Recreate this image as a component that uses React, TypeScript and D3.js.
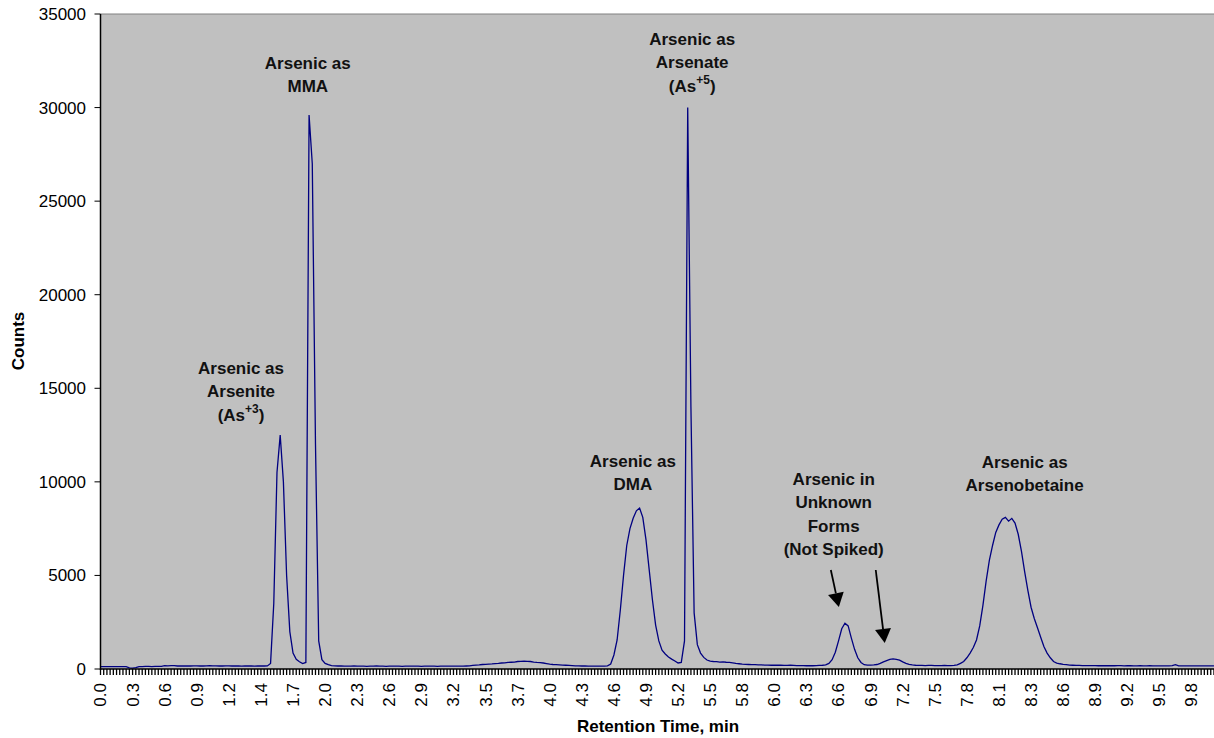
import React, { useEffect, useRef } from 'react';
import * as d3 from 'd3';

// detector counts, one value per sample (category index)
const counts = [
  130, 130, 130, 130, 130, 125, 130, 130, 125, 60,
  50, 70, 130, 130, 135, 135, 130, 135, 140, 140,
  180, 170, 180, 175, 160, 160, 165, 160, 160, 170,
  165, 160, 160, 170, 175, 170, 165, 160, 160, 165,
  170, 160, 160, 160, 155, 160, 160, 160, 155, 160,
  160, 160, 165, 300, 3500, 10500, 12500, 10000, 5000, 2000,
  850, 520, 390, 290, 350, 29600, 27000, 12000, 1500, 500,
  300, 230, 180, 170, 160, 160, 155, 150, 150, 160,
  155, 150, 150, 145, 150, 150, 160, 150, 150, 145,
  150, 150, 150, 150, 145, 150, 150, 155, 150, 150,
  145, 150, 150, 150, 150, 145, 150, 150, 150, 155,
  150, 150, 150, 150, 160, 170, 190, 210, 220, 240,
  250, 260, 270, 290, 300, 320, 330, 350, 360, 370,
  400, 410, 420, 410, 400, 370, 350, 340, 320, 290,
  260, 240, 230, 220, 210, 200, 190, 180, 170, 170,
  160, 160, 155, 150, 150, 150, 150, 155, 170, 270,
  750, 1550, 3150, 5000, 6600, 7500, 8050, 8450, 8600, 8100,
  6900, 5300, 3700, 2350, 1500, 1000, 800, 640, 530, 430,
  320, 350, 1500, 30000, 14000, 3000, 1300, 850, 620, 480,
  420, 400, 390, 370, 380, 360, 350, 330, 300, 280,
  260, 250, 240, 230, 230, 220, 220, 210, 210, 200,
  200, 210, 200, 190, 190, 200, 190, 180, 180, 180,
  175, 180, 175, 180, 190, 200, 220, 300, 500, 900,
  1500, 2150, 2450, 2300, 1650, 1050, 600, 350, 230, 210,
  210, 220, 240, 300, 380, 450, 510, 540, 520, 470,
  380, 300, 250, 220, 200, 190, 190, 185, 190, 190,
  185, 180, 185, 190, 185, 185, 190, 220, 300, 400,
  600, 850, 1150, 1550, 2300, 3400, 4700, 5800, 6600, 7300,
  7700, 8000, 8100, 7900, 8050, 7800, 7200, 6300, 5200, 4200,
  3300, 2700, 2200, 1700, 1200, 850, 600, 400, 320, 280,
  250, 230, 210, 200, 190, 190, 185, 180, 180, 185,
  180, 175, 180, 175, 180, 175, 175, 180, 175, 170,
  175, 175, 170, 170, 175, 170, 170, 175, 170, 170,
  170, 165, 170, 170, 175, 230, 170, 165, 165, 170,
  165, 165, 170, 165, 165, 170, 165, 165
];

// category labels, one every 10 samples
const timeLabels = [
  '0.0', '0.3', '0.6', '0.9', '1.2', '1.4', '1.7', '2.0', '2.3', '2.6',
  '2.9', '3.2', '3.5', '3.7', '4.0', '4.3', '4.6', '4.9', '5.2', '5.5',
  '5.8', '6.0', '6.3', '6.6', '6.9', '7.2', '7.5', '7.8', '8.1', '8.3',
  '8.6', '8.9', '9.2', '9.5', '9.8'
];
const labelEvery = 10;

const countTicks = [0, 5000, 10000, 15000, 20000, 25000, 30000, 35000];

// peak annotations, anchored in data units (sample index, counts)
const notes = [
  { at: 43.8, top: 15760, lines: ['Arsenic as', 'Arsenite', '(As|+3|)'] },
  { at: 64.6, top: 32060, lines: ['Arsenic as', 'MMA'] },
  { at: 165.9, top: 10790, lines: ['Arsenic as', 'DMA'] },
  { at: 184.4, top: 33340, lines: ['Arsenic as', 'Arsenate', '(As|+5|)'] },
  { at: 228.5, top: 9830, lines: ['Arsenic in', 'Unknown', 'Forms', '(Not Spiked)'] },
  { at: 288.0, top: 10740, lines: ['Arsenic as', 'Arsenobetaine'] }
];

const arrows = [
  { from: [227.6, 5290], to: [230.1, 3310] },
  { from: [241.6, 5290], to: [244.4, 1390] }
];

const font = '"Liberation Sans", Arial, sans-serif';

export default function App() {
  const ref = useRef<SVGSVGElement>(null);

  useEffect(() => {
    document.body.style.margin = '0';
    const W = 1214, H = 738;
    const left = 100.5, top = 14, bottom = 669;

    const svg = d3.select(ref.current).attr('width', W).attr('height', H);
    svg.selectAll('*').remove();

    const x = d3.scaleLinear().domain([0, 340]).range([left, 1191.5]);
    const y = d3.scaleLinear().domain([0, 35000]).range([bottom, top]);

    // plot area
    svg.append('rect')
      .attr('x', left).attr('y', top)
      .attr('width', W - left + 10).attr('height', bottom - top)
      .attr('fill', '#c0c0c0');
    svg.append('line')
      .attr('x1', left).attr('x2', W)
      .attr('y1', top).attr('y2', top)
      .attr('stroke', '#808080').attr('stroke-width', 1);

    // trace
    const line = d3.line<number>()
      .x((d, i) => x(i))
      .y(d => y(d));
    svg.append('path')
      .datum(counts)
      .attr('d', line)
      .attr('fill', 'none')
      .attr('stroke', '#000080')
      .attr('stroke-width', 1.3);

    // y axis
    svg.append('line')
      .attr('x1', left).attr('x2', left)
      .attr('y1', top).attr('y2', bottom + 1)
      .attr('stroke', '#000').attr('stroke-width', 1.5);
    const yg = svg.append('g');
    yg.selectAll('line').data(countTicks).join('line')
      .attr('x1', left - 6).attr('x2', left)
      .attr('y1', d => y(d)).attr('y2', d => y(d))
      .attr('stroke', '#000');
    yg.selectAll('text').data(countTicks).join('text')
      .attr('x', 86).attr('y', d => y(d))
      .attr('dy', '0.35em')
      .attr('text-anchor', 'end')
      .attr('font-family', font).attr('font-size', 17)
      .text(d => d);

    // x axis
    svg.append('line')
      .attr('x1', left).attr('x2', W)
      .attr('y1', bottom).attr('y2', bottom)
      .attr('stroke', '#000').attr('stroke-width', 1.5);
    const xg = svg.append('g');
    xg.selectAll('line').data(counts.map((d, i) => i)).join('line')
      .attr('x1', d => x(d)).attr('x2', d => x(d))
      .attr('y1', bottom).attr('y2', bottom + 6)
      .attr('stroke', '#000').attr('stroke-width', 1.3);
    xg.selectAll('text').data(timeLabels).join('text')
      .attr('transform', (d, i) => `translate(${x(i * labelEvery)}, 683) rotate(-90)`)
      .attr('dy', '0.35em')
      .attr('text-anchor', 'end')
      .attr('font-family', font).attr('font-size', 17)
      .text(d => d);

    // axis titles
    svg.append('text')
      .attr('x', 658).attr('y', 732)
      .attr('text-anchor', 'middle')
      .attr('font-family', font).attr('font-size', 17).attr('font-weight', 'bold')
      .text('Retention Time, min');
    svg.append('text')
      .attr('transform', 'translate(24, 341) rotate(-90)')
      .attr('text-anchor', 'middle')
      .attr('font-family', font).attr('font-size', 17).attr('font-weight', 'bold')
      .text('Counts');

    // annotations
    notes.forEach(n => {
      const t = svg.append('text')
        .attr('text-anchor', 'middle')
        .attr('font-family', font).attr('font-size', 17).attr('font-weight', 'bold')
        .attr('fill', '#111');
      n.lines.forEach((ln, k) => {
        const parts = ln.split('|');
        const row = t.append('tspan')
          .attr('x', x(n.at)).attr('y', y(n.top) + k * 23.4);
        if (parts.length === 1) {
          row.text(ln);
        } else {
          row.text(parts[0]);
          t.append('tspan').attr('font-size', 12).attr('dy', -8).text(parts[1]);
          t.append('tspan').attr('dy', 8).text(parts[2]);
        }
      });
    });

    arrows.forEach(a => {
      const x1 = x(a.from[0]), y1 = y(a.from[1]);
      const x2 = x(a.to[0]), y2 = y(a.to[1]);
      const len = Math.hypot(x2 - x1, y2 - y1);
      const ux = (x2 - x1) / len, uy = (y2 - y1) / len;
      const hl = 14, hw = 8;
      const bx = x2 - ux * hl, by = y2 - uy * hl;
      svg.append('line')
        .attr('x1', x1).attr('y1', y1).attr('x2', bx).attr('y2', by)
        .attr('stroke', '#000').attr('stroke-width', 1.8);
      svg.append('path')
        .attr('d', `M${x2},${y2}L${bx - uy * hw},${by + ux * hw}L${bx + uy * hw},${by - ux * hw}Z`)
        .attr('fill', '#000');
    });
  }, []);

  return <svg ref={ref} style={{ display: 'block' }}></svg>;
}
